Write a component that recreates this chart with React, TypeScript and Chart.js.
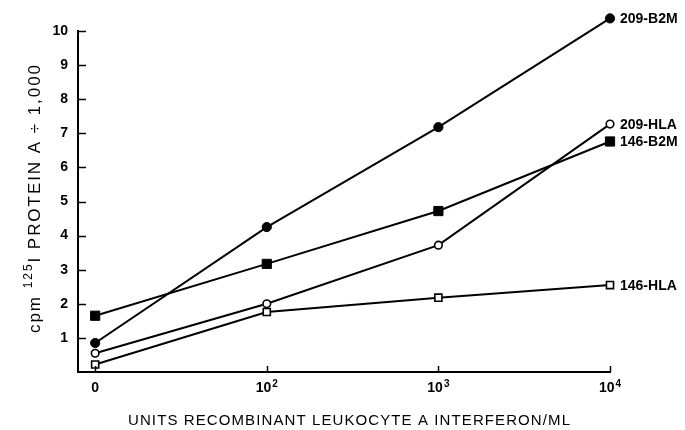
import { useEffect, useRef } from 'react';
import { Chart, registerables } from 'chart.js';

Chart.register(...registerables);

const xPositions = [0, 1, 2, 3];
const xTickBases = ['0', '10', '10', '10'];
const xTickExponents = ['', '2', '3', '4'];
const yTickValues = [1, 2, 3, 4, 5, 6, 7, 8, 9, 10];

const seriesNames = ['209-B2M', '209-HLA', '146-B2M', '146-HLA'];
const b2m209 = [0.85, 4.25, 7.18, 10.37];
const hla209 = [0.55, 2.0, 3.72, 7.27];
const b2m146 = [1.65, 3.17, 4.72, 6.76];
const hla146 = [0.22, 1.76, 2.18, 2.55];

const xTitle = 'UNITS RECOMBINANT LEUKOCYTE A INTERFERON/ML';
const yTitleStart = 'cpm ';
const yTitleSup = '125';
const yTitleEnd = 'I PROTEIN A ÷ 1,000';

const FONT = '"Liberation Sans", Arial, Helvetica, sans-serif';

const bigArea = { left: -1e5, right: 1e5, top: -1e5, bottom: 1e5 };

const inwardTicks = {
  id: 'inwardTicks',
  afterDraw(chart: any) {
    const { ctx, chartArea, scales } = chart;
    ctx.save();
    ctx.strokeStyle = '#000';
    ctx.lineWidth = 1.5;
    yTickValues.forEach((v) => {
      const y = Math.round(scales.y.getPixelForValue(v)) + 0.5;
      ctx.beginPath();
      ctx.moveTo(chartArea.left, y);
      ctx.lineTo(chartArea.left + 8, y);
      ctx.stroke();
    });
    xPositions.forEach((v) => {
      const x = Math.round(scales.x.getPixelForValue(v)) + 0.5;
      ctx.beginPath();
      ctx.moveTo(x, chartArea.bottom);
      ctx.lineTo(x, chartArea.bottom - 6);
      ctx.stroke();
    });

    // x tick labels with superscript exponents
    ctx.fillStyle = '#000';
    ctx.textBaseline = 'alphabetic';
    const baseFont = `bold 14px ${FONT}`;
    const supFont = `bold 10px ${FONT}`;
    xPositions.forEach((v, i) => {
      const cx = scales.x.getPixelForValue(v);
      ctx.font = baseFont;
      const wb = ctx.measureText(xTickBases[i]).width;
      ctx.font = supFont;
      const we = xTickExponents[i] ? ctx.measureText(xTickExponents[i]).width + 1 : 0;
      const start = cx - (wb + we) / 2;
      ctx.font = baseFont;
      ctx.textAlign = 'left';
      ctx.fillText(xTickBases[i], start, 392);
      if (xTickExponents[i]) {
        ctx.font = supFont;
        ctx.fillText(xTickExponents[i], start + wb + 1, 387);
      }
    });

    // x title
    ctx.font = `15px ${FONT}`;
    const natural = ctx.measureText(xTitle).width;
    const targetW = 442;
    const sp = (targetW - natural) / (xTitle.length - 1);
    (ctx as any).letterSpacing = `${sp}px`;
    ctx.textAlign = 'left';
    ctx.fillText(xTitle, 349 - targetW / 2, 425);
    (ctx as any).letterSpacing = '0px';

    // y title (rotated)
    ctx.save();
    ctx.translate(40, 333);
    ctx.rotate(-Math.PI / 2);
    const mainFont = `17px ${FONT}`;
    const smallFont = `12px ${FONT}`;
    ctx.font = mainFont;
    const w1 = ctx.measureText(yTitleStart).width;
    const w3 = ctx.measureText(yTitleEnd).width;
    ctx.font = smallFont;
    const w2 = ctx.measureText(yTitleSup).width;
    const nChars = yTitleStart.length + yTitleSup.length + yTitleEnd.length;
    const targetY = 268;
    const spy = Math.max(0, (targetY - (w1 + w2 + w3)) / (nChars - 1));
    (ctx as any).letterSpacing = `${spy}px`;
    ctx.textAlign = 'left';
    let pos = 0;
    ctx.font = mainFont;
    ctx.fillText(yTitleStart, pos, 0);
    pos += w1 + spy * yTitleStart.length;
    ctx.font = smallFont;
    ctx.fillText(yTitleSup, pos, -8);
    pos += w2 + spy * yTitleSup.length;
    ctx.font = mainFont;
    ctx.fillText(yTitleEnd, pos, 0);
    (ctx as any).letterSpacing = '0px';
    ctx.restore();

    ctx.restore();
  },
};

const seriesLabels = {
  id: 'seriesLabels',
  afterDatasetsDraw(chart: any) {
    const { ctx, chartArea } = chart;
    ctx.save();
    // draw points lying outside the plot area (e.g. above the top tick)
    chart.data.datasets.forEach((_ds: any, i: number) => {
      const meta = chart.getDatasetMeta(i);
      meta.data.forEach((pt: any) => {
        if (pt.y < chartArea.top - 2) pt.draw(ctx, bigArea);
      });
    });
    ctx.fillStyle = '#000';
    ctx.font = `bold 14px ${FONT}`;
    ctx.textAlign = 'left';
    ctx.textBaseline = 'middle';
    chart.data.datasets.forEach((ds: any, i: number) => {
      const meta = chart.getDatasetMeta(i);
      const pt = meta.data[meta.data.length - 1];
      if (pt) ctx.fillText(ds.label, pt.x + 10, pt.y + 1);
    });
    ctx.restore();
  },
};

export default function App() {
  const ref = useRef<HTMLCanvasElement>(null);

  useEffect(() => {
    if (!ref.current) return;
    const mk = (label: string, values: number[], style: string, filled: boolean, r: number) => ({
      label,
      data: xPositions.map((x, i) => ({ x, y: values[i] })),
      borderColor: '#000',
      borderWidth: 2,
      pointStyle: style,
      pointRadius: r,
      pointBorderWidth: filled ? 1 : 1.6,
      pointBorderColor: '#000',
      pointBackgroundColor: filled ? '#000' : '#fff',
      clip: false,
      tension: 0,
    });
    const chart = new Chart(ref.current, {
      type: 'line',
      data: {
        datasets: [
          mk(seriesNames[0], b2m209, 'circle', true, 4.6),
          mk(seriesNames[1], hla209, 'circle', false, 3.8),
          mk(seriesNames[2], b2m146, 'rect', true, 6.5),
          mk(seriesNames[3], hla146, 'rect', false, 5),
        ],
      },
      options: {
        animation: false,
        responsive: false,
        devicePixelRatio: 1,
        layout: { padding: { top: 31, right: 75, left: 0, bottom: 0 } },
        plugins: { legend: { display: false }, tooltip: { enabled: false } },
        scales: {
          x: {
            type: 'linear',
            min: -0.1,
            max: 3,
            afterBuildTicks: (s: any) => {
              s.ticks = xPositions.map((v) => ({ value: v }));
            },
            afterFit: (s: any) => {
              s.height = 58;
            },
            grid: { display: false, drawTicks: false },
            border: { display: true, color: '#000', width: 2 },
            ticks: { display: false },
            title: { display: false, text: xTitle },
          },
          y: {
            type: 'linear',
            min: 0,
            max: 10,
            afterFit: (s: any) => {
              s.width = 78;
            },
            grid: { display: false, drawTicks: false },
            border: { display: true, color: '#000', width: 2 },
            ticks: {
              stepSize: 1,
              color: '#000',
              padding: 10,
              font: { family: FONT, size: 14, weight: 'bold' },
              callback: (v: any) => (Number(v) === 0 ? '' : String(v)),
            },
            title: { display: false, text: yTitleStart + yTitleSup + yTitleEnd },
          },
        },
      },
      plugins: [inwardTicks, seriesLabels],
    } as any);
    return () => chart.destroy();
  }, []);

  return (
    <div style={{ position: 'fixed', left: 0, top: 0, width: 685, height: 430, background: '#fff' }}>
      <canvas ref={ref} width={685} height={430} />
    </div>
  );
}
